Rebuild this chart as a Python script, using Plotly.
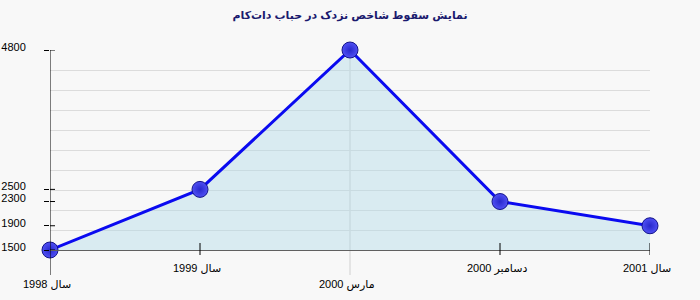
import plotly.graph_objects as go

title_text = "نمایش سقوط شاخص نزدک در حباب دات‌کام"
categories = ["سال 1998", "سال 1999", "مارس 2000", "دسامبر 2000", "سال 2001"]
values = [1500, 2500, 4800, 2300, 1900]
low_labels = [True, False, True, False, False]  # staggered labels

xs = list(range(len(categories)))
ymin, ymax = min(values), max(values)

BG = "#f8f8f8"
FONT = "Liberation Sans, DejaVu Sans, sans-serif"

fig = go.Figure()

# grid-carrying dummy trace on overlay axis
fig.add_trace(go.Scatter(x=xs, y=values, yaxis="y2", mode="lines",
                         line=dict(width=0), hoverinfo="skip", showlegend=False))

fig.add_trace(go.Scatter(
    x=xs, y=values, mode="lines+markers",
    line=dict(color="#0a0af0", width=3),
    fill="tozeroy", fillcolor="rgba(173,216,230,0.42)",
    marker=dict(size=16, color="#5050f4",
                gradient=dict(type="radial", color="#2828cc"),
                line=dict(color="#14148a", width=1)),
    cliponaxis=False, showlegend=False,
))

shapes = []
for i, low in zip(xs, low_labels):
    if i == 0:
        continue
    if low:
        shapes.append(dict(type="line", xref="x", yref="paper", x0=i, x1=i,
                           y0=-0.125, y1=1, line=dict(color="#d0d0d0", width=1), layer="below"))
    else:
        shapes.append(dict(type="line", xref="x", yref="paper", x0=i, x1=i,
                           y0=-0.025, y1=0.035, line=dict(color="#000000", width=1)))
shapes.append(dict(type="line", xref="x", yref="paper", x0=0, x1=0,
                   y0=-0.125, y1=1, line=dict(color="#000000", width=1)))
for v in values:
    shapes.append(dict(type="line", xref="paper", yref="y", x0=0, x1=5/600,
                       y0=v, y1=v, line=dict(color="#000000", width=1)))

annotations = []
for i, (lab, low) in enumerate(zip(categories, low_labels)):
    annotations.append(dict(x=i, y=0, xref="x", yref="paper", text=lab,
                            showarrow=False, xanchor="center", yanchor="top",
                            yshift=-26 if low else -10, xshift=-3,
                            font=dict(family=FONT, size=11, color="#000000")))

fig.update_layout(
    width=700, height=300,
    margin=dict(l=50, r=50, t=50, b=50, autoexpand=False),
    paper_bgcolor=BG, plot_bgcolor=BG,
    title=dict(text="<b>" + title_text + "</b>", x=0.5, xanchor="center",
               y=1 - 15/300, yanchor="middle",
               font=dict(family=FONT, size=11, color="#1a1a6e")),
    xaxis=dict(range=[0, len(categories) - 1], showgrid=False, zeroline=False,
               showticklabels=False, ticks="", showline=True,
               linecolor="#606060", linewidth=1, automargin=False),
    yaxis=dict(range=[ymin, ymax], tickvals=sorted(values),
               ticktext=[str(v) for v in sorted(values)],
               showgrid=False, zeroline=False, showline=False,
               ticks="outside", ticklen=5, tickcolor="#000000",
               ticklabelstandoff=16, ticklabelshift=-3, automargin=False,
               tickfont=dict(family=FONT, size=11, color="#000000")),
    yaxis2=dict(range=[ymin, ymax], overlaying="y", side="left",
                tick0=ymin, dtick=(ymax - ymin) / 10, showgrid=True,
                gridcolor="#dcdcdc", gridwidth=1, showticklabels=False,
                ticks="", zeroline=False, showline=False, automargin=False),
    shapes=shapes, annotations=annotations,
)

fig.write_html("out.html")
